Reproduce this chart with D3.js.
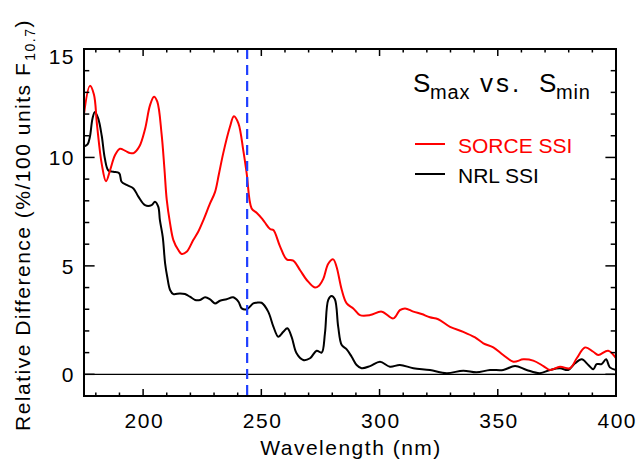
<!DOCTYPE html>
<html>
<head>
<meta charset="utf-8">
<script src="https://cdn.jsdelivr.net/npm/d3@7"></script>
<style>
  html, body { margin: 0; padding: 0; background: #fff; }
  svg { display: block; }
  text { font-family: "Liberation Sans", Arial, sans-serif; }
</style>
</head>
<body>
<svg id="chart" width="638" height="460"></svg>
<script>
// ---- data ----
const sorceWavelength = [175,177.5,179.2,180.5,182.5,184.3,186,188.1,190.2,192.5,194.5,196,198.4,200.8,202.9,204.6,206,207.8,209,210,211.4,212.8,214.9,216.3,218.4,221.2,223.3,225.5,228.3,230.4,232,233.9,236.7,238.4,240.3,242.4,243.8,245.9,248,250.1,251.5,253.7,255.1,257.9,260.7,263.5,266.4,269.2,272.7,274.5,276.2,278.3,280.4,281.8,284,286.1,288.9,291.7,296,300.9,305.8,308.6,310.8,314.3,317.8,321.3,324.8,329.8,335.4,340.4,343.9,348.1,352.3,356.6,360.8,365,369.3,372.1,376.3,380.5,383.4,386.9,390.4,392.5,396.7,400];
const sorceValues = [12.0,13.3,12.9,11.5,9.7,8.9,9.4,10.1,10.4,10.3,10.2,10.2,10.5,11.3,12.4,12.8,12.57,11.1,9.5,8.04,6.96,6.19,5.73,5.55,5.65,6.19,6.57,7.11,7.88,8.4,9.2,10.2,11.4,11.9,11.57,10.3,9.27,7.65,7.45,7.2,7.0,6.7,6.65,5.9,5.3,5.24,4.8,4.35,4.0,4.1,4.4,5.1,5.3,4.96,3.9,3.27,3.04,2.73,2.73,2.89,2.58,2.96,3.04,2.89,2.78,2.63,2.54,2.19,1.96,1.7,1.43,1.24,0.89,0.58,0.69,0.63,0.38,0.2,0.35,0.28,0.74,1.24,1.04,0.89,1.09,0.74];

const nrlWavelength = [175,176.5,177.5,178.6,179.6,181,182.5,183.8,185.3,187.4,189.9,190.9,193,195.9,198,200.8,203.6,205,206.4,207.1,208.3,209.3,210.2,211.4,212.8,215.6,217.7,219.8,222,224.1,226.2,228.3,230.4,232.5,235.3,238.1,240.3,241.7,243.8,246.6,248,250.1,252.9,255.1,257.2,259.3,261,262.8,264.9,267.7,270.6,273.4,275.5,276.9,278.3,279.7,281.1,282.5,284,286.1,288.2,290.3,292.4,296,300.2,304.4,308.6,314.3,321.3,328.4,335.4,341,346.7,352.3,357.3,362.2,367.8,372.1,376.3,379.8,382.7,385.5,388.3,390.4,391.8,393.9,395.8,397.4,400];
const nrlValues = [10.5,10.6,10.95,11.8,12.1,11.8,11.0,9.96,9.4,9.34,9.27,8.88,8.73,8.57,8.19,7.8,7.8,7.96,7.73,7.11,6.34,5.12,4.5,3.89,3.7,3.73,3.7,3.58,3.43,3.43,3.55,3.46,3.27,3.39,3.46,3.55,3.35,3.04,3.0,3.27,3.3,3.3,2.89,2.2,1.73,1.96,2.12,1.73,0.97,0.66,0.74,1.09,1.0,1.89,3.43,3.61,3.46,2.2,1.35,1.15,0.81,0.43,0.28,0.38,0.58,0.35,0.43,0.28,0.2,0.05,0.17,0.09,0.2,0.2,0.38,0.2,0.05,0.2,0.28,0.2,0.51,0.69,0.43,0.23,0.47,0.47,0.69,0.32,0.2];

const xTickValues = [200, 250, 300, 350, 400];
const yTickValues = [0, 5, 10, 15];
const xDomain = [175, 400];
const yDomain = [-1, 15];
const markerWavelength = 244;
const seriesNames = ["SORCE SSI", "NRL SSI"];

// ---- layout ----
const svg = d3.select("#chart");
const pLeft = 84, pRight = 616, pTop = 49, pBottom = 396;
const x = d3.scaleLinear().domain(xDomain).range([pLeft, pRight]);
const y = d3.scaleLinear().domain(yDomain).range([pBottom, pTop]);
const FONT = "Liberation Sans, Arial, sans-serif";
const fontSize = 21;
const spacing = 1.5;

svg.append("defs").append("clipPath").attr("id", "plotclip")
  .append("rect").attr("x", pLeft).attr("y", pTop).attr("width", pRight - pLeft).attr("height", pBottom - pTop);

// zero line
svg.append("line")
  .attr("x1", pLeft).attr("x2", pRight)
  .attr("y1", y(0)).attr("y2", y(0))
  .attr("stroke", "#000").attr("stroke-width", 1.2);

const line = d3.line().x(d => x(d[0])).y(d => y(d[1])).curve(d3.curveCatmullRom.alpha(0.5));

const g = svg.append("g").attr("clip-path", "url(#plotclip)");
g.append("path")
  .datum(nrlWavelength.map((w, i) => [w, nrlValues[i]]))
  .attr("d", line).attr("fill", "none").attr("stroke", "#000").attr("stroke-width", 2)
  .attr("stroke-linejoin", "round");
g.append("path")
  .datum(sorceWavelength.map((w, i) => [w, sorceValues[i]]))
  .attr("d", line).attr("fill", "none").attr("stroke", "#ff0000").attr("stroke-width", 2)
  .attr("stroke-linejoin", "round");

// dashed marker
svg.append("line")
  .attr("x1", x(markerWavelength)).attr("x2", x(markerWavelength))
  .attr("y1", pTop).attr("y2", pBottom)
  .attr("stroke", "#1f3fff").attr("stroke-width", 2.2)
  .attr("stroke-dasharray", "10,6");

// axes (IDL style, ticks inward)
const xAxisBottom = d3.axisBottom(x).tickValues(xTickValues).tickSize(0).tickPadding(17).tickFormat(d3.format("d"));
const ax = svg.append("g").attr("transform", `translate(0,${pBottom})`).call(xAxisBottom);
ax.select(".domain").remove();
ax.selectAll("text").attr("font-size", fontSize).attr("font-family", FONT).attr("fill", "#000")
  .attr("letter-spacing", spacing).attr("dx", spacing / 2);

const yAxisLeft = d3.axisLeft(y).tickValues(yTickValues).tickSize(0).tickPadding(9).tickFormat(d3.format("d"));
const ay = svg.append("g").attr("transform", `translate(${pLeft},0)`).call(yAxisLeft);
ay.select(".domain").remove();
ay.selectAll("text").attr("font-size", fontSize).attr("font-family", FONT).attr("fill", "#000")
  .attr("letter-spacing", spacing)
  .attr("dy", d => d === 15 ? "0.7em" : "0.35em");

// tick marks
const tickG = svg.append("g").attr("stroke", "#000").attr("stroke-width", 1.5);
d3.range(180, 401, 10).forEach(v => {
  const len = v % 50 === 0 ? 7 : 3.5;
  tickG.append("line").attr("x1", x(v)).attr("x2", x(v)).attr("y1", pBottom).attr("y2", pBottom - len);
  tickG.append("line").attr("x1", x(v)).attr("x2", x(v)).attr("y1", pTop).attr("y2", pTop + len);
});
d3.range(0, 16, 1).forEach(v => {
  const len = v % 5 === 0 ? 10.6 : 5.3;
  tickG.append("line").attr("x1", pLeft).attr("x2", pLeft + len).attr("y1", y(v)).attr("y2", y(v));
  tickG.append("line").attr("x1", pRight).attr("x2", pRight - len).attr("y1", y(v)).attr("y2", y(v));
});

// frame
svg.append("rect").attr("x", pLeft).attr("y", pTop).attr("width", pRight - pLeft).attr("height", pBottom - pTop)
  .attr("fill", "none").attr("stroke", "#000").attr("stroke-width", 2);

// axis titles
svg.append("text").attr("x", 351).attr("y", 455)
  .attr("text-anchor", "middle").attr("font-size", fontSize).attr("fill", "#000")
  .attr("letter-spacing", spacing)
  .text("Wavelength (nm)");

const yt = svg.append("text")
  .attr("transform", "translate(30,225) rotate(-90)")
  .attr("text-anchor", "middle").attr("font-size", fontSize).attr("fill", "#000")
  .attr("letter-spacing", spacing);
yt.append("tspan").text("Relative Difference (%/100 units F");
yt.append("tspan").attr("font-size", 14).attr("dy", 5).attr("dx", 1).text("10.7");
yt.append("tspan").attr("dy", -5).text(")");

// legend title
const titleParts = [
  { t: "S", x: 413, size: 26, dy: 0 },
  { t: "max", x: 430, size: 20, dy: 7 },
  { t: "vs.", x: 480, size: 26, dy: 0 },
  { t: "S", x: 539, size: 26, dy: 0 },
  { t: "min", x: 556, size: 20, dy: 7 }
];
titleParts.forEach(p => {
  svg.append("text").attr("x", p.x).attr("y", 92 + p.dy)
    .attr("font-size", p.size).attr("fill", "#000")
    .attr("letter-spacing", p.t === "vs." ? 3 : 0.8)
    .text(p.t);
});

const legendColors = ["#ff0000", "#000"];
const legendY = [153, 183];
seriesNames.forEach((name, i) => {
  svg.append("line").attr("x1", 415).attr("x2", 445)
    .attr("y1", legendY[i] - 9).attr("y2", legendY[i] - 9)
    .attr("stroke", legendColors[i]).attr("stroke-width", 2);
  svg.append("text").attr("x", 458).attr("y", legendY[i])
    .attr("font-size", fontSize).attr("fill", legendColors[i]).text(name);
});
</script>
</body>
</html>
